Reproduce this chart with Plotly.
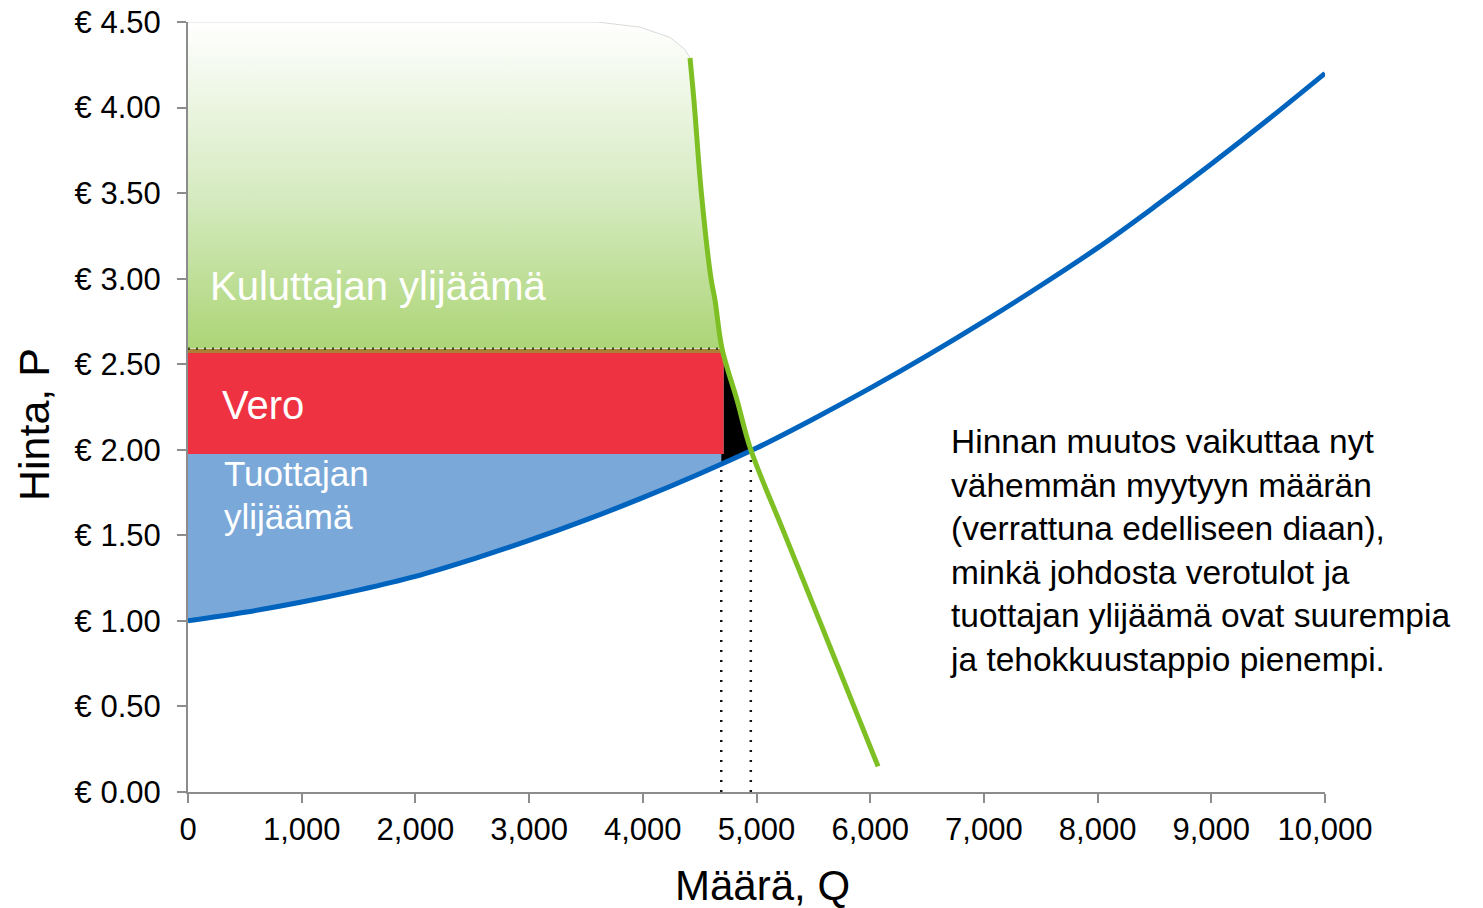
import numpy as np
import plotly.graph_objects as go

# ---------------- data ----------------
supply_q = [0, 500, 1000, 1500, 2000, 2500, 3000, 3500, 4000, 4500, 5000,
            5500, 6000, 6500, 7000, 7500, 8000, 8500, 9000, 9500, 10000]
supply_p = [1.00, 1.05, 1.11, 1.18, 1.26, 1.36, 1.47, 1.59, 1.72, 1.86, 2.01,
            2.18, 2.36, 2.55, 2.75, 2.96, 3.18, 3.42, 3.67, 3.93, 4.20]

demand_q = [4415, 4450, 4515, 4600, 4635, 4697, 4829, 4950, 5252, 5555, 5857, 6069]
demand_p = [4.29, 4.04, 3.50, 3.00, 2.875, 2.59, 2.29, 2.00, 1.50, 1.00, 0.50, 0.15]

# consumer-surplus top rounded corner (outline of the area)
cs_corner_q = [4370, 4240, 3975, 3600, 0]
cs_corner_p = [4.34, 4.41, 4.47, 4.50, 4.50]

q_tax = 4690          # quantity with tax
q_block = 4712        # right edge of tax block
q_eq = 4950           # equilibrium quantity
p_eq = 2.00
p_consumer = 2.59     # price paid by consumers
p_block_top = 2.565
p_block_bottom = 1.975

x_ticks = list(range(0, 10001, 1000))
y_ticks = [0, 0.5, 1.0, 1.5, 2.0, 2.5, 3.0, 3.5, 4.0, 4.5]
x_tick_text = [f"{v:,}" for v in x_ticks]
y_tick_text = [f"€ {v:.2f}" for v in y_ticks]

labels = {
    "cs": "Kuluttajan ylijäämä",
    "tax": "Vero",
    "ps1": "Tuottajan",
    "ps2": "ylijäämä",
    "note": ("Hinnan muutos vaikuttaa nyt<br>vähemmän myytyyn määrän<br>"
             "(verrattuna edelliseen diaan),<br>minkä johdosta verotulot ja<br>"
             "tuottajan ylijäämä ovat suurempia<br>ja tehokkuustappio pienempi."),
    "xtitle": "Määrä, Q",
    "ytitle": "Hinta, P",
}

FONT = "Liberation Sans, Arial, sans-serif"
sq = np.array(supply_q, float)
sp = np.array(supply_p, float)
dq = np.array(demand_q, float)
dp = np.array(demand_p, float)

def supply_at(q):
    return float(np.interp(q, sq, sp))

fig = go.Figure()

# producer surplus (blue)
mask = sq < q_tax
ps_x = [0] + list(sq[mask]) + [q_tax, q_tax, 0]
ps_y = [supply_p[0]] + list(sp[mask]) + [supply_at(q_tax), p_block_bottom, p_block_bottom]
fig.add_trace(go.Scatter(x=ps_x, y=ps_y, fill="toself", mode="lines",
                         line=dict(width=0), fillcolor="rgb(122,168,216)",
                         hoverinfo="skip", showlegend=False))

# consumer surplus (gradient green)
q_at_pc = demand_q[list(dp).index(p_consumer)]
m2 = dp >= p_consumer
cs_x = [0, q_at_pc] + list(dq[m2][::-1]) + cs_corner_q
cs_y = [p_consumer, p_consumer] + list(dp[m2][::-1]) + cs_corner_p
fig.add_trace(go.Scatter(x=cs_x, y=cs_y, fill="toself", mode="lines",
                         line=dict(width=1, color="rgb(218,218,218)"),
                         fillgradient=dict(type="vertical",
                                           colorscale=[[0, "rgb(172,213,118)"],
                                                       [0.45, "rgb(212,234,190)"],
                                                       [1, "rgb(255,255,255)"]],
                                           start=p_consumer, stop=4.5),
                         hoverinfo="skip", showlegend=False, cliponaxis=False))

# tax block (red)
fig.add_trace(go.Scatter(x=[0, q_block, q_block, 0], y=[p_block_bottom, p_block_bottom, p_block_top, p_block_top],
                         fill="toself", mode="lines", line=dict(width=0),
                         fillcolor="rgb(238,50,66)", hoverinfo="skip", showlegend=False))
fig.add_trace(go.Scatter(x=[0, q_block], y=[(p_block_top + p_consumer) / 2] * 2, mode="lines",
                         line=dict(width=4, color="rgb(172,128,52)"),
                         hoverinfo="skip", showlegend=False))

# dead-weight loss (black)
m3 = (dp < p_block_top) & (dp >= p_eq)
dw_x = [q_block] + list(dq[m3]) + [q_tax, q_tax, q_block]
dw_y = [p_block_top] + list(dp[m3]) + [supply_at(q_tax), p_block_bottom, p_block_bottom]
fig.add_trace(go.Scatter(x=dw_x, y=dw_y, fill="toself", mode="lines",
                         line=dict(width=0), fillcolor="black",
                         hoverinfo="skip", showlegend=False))

# dotted guide lines
dot = dict(color="rgb(20,20,20)", width=2.5, dash="2px,8px")
fig.add_trace(go.Scatter(x=[0, q_at_pc], y=[p_consumer, p_consumer],
                         mode="lines", line=dict(color="rgb(60,80,30)", width=2.5, dash="2px,6px"),
                         hoverinfo="skip", showlegend=False))
fig.add_trace(go.Scatter(x=[q_tax, q_tax], y=[0, supply_at(q_tax)], mode="lines", line=dot,
                         hoverinfo="skip", showlegend=False))
fig.add_trace(go.Scatter(x=[q_eq, q_eq], y=[0, p_eq], mode="lines", line=dot,
                         hoverinfo="skip", showlegend=False))

# curves
fig.add_trace(go.Scatter(x=supply_q, y=supply_p, mode="lines",
                         line=dict(color="rgb(0,100,190)", width=5, shape="spline"),
                         showlegend=False, cliponaxis=False))
fig.add_trace(go.Scatter(x=demand_q, y=demand_p, mode="lines",
                         line=dict(color="rgb(126,192,36)", width=5, shape="spline"),
                         showlegend=False, cliponaxis=False))

# text labels
fig.add_annotation(x=176, y=2.96, text=labels["cs"], showarrow=False, xanchor="left",
                   font=dict(family=FONT, size=40, color="white"))
fig.add_annotation(x=280, y=2.26, text=labels["tax"], showarrow=False, xanchor="left",
                   font=dict(family=FONT, size=40, color="white"))
fig.add_annotation(x=300, y=1.864, text=labels["ps1"], showarrow=False, xanchor="left",
                   font=dict(family=FONT, size=35, color="white"))
fig.add_annotation(x=300, y=1.613, text=labels["ps2"], showarrow=False, xanchor="left",
                   font=dict(family=FONT, size=35, color="white"))
fig.add_annotation(x=6684, y=1.414, text=labels["note"], showarrow=False, xanchor="left", align="left",
                   font=dict(family=FONT, size=33.5, color="black"))
fig.add_annotation(x=0.5055, xref="paper", y=-0.121, yref="paper", yanchor="middle", xanchor="center",
                   text=labels["xtitle"], showarrow=False,
                   font=dict(family=FONT, size=42, color="black"))
fig.add_annotation(x=-0.1355, xref="paper", xanchor="center", y=2.15, yanchor="middle",
                   text=labels["ytitle"], showarrow=False,
                   textangle=-90, font=dict(family=FONT, size=43, color="black"))

axis_color = "rgb(140,140,140)"
fig.update_xaxes(range=[0, 10000], tickvals=x_ticks, ticktext=x_tick_text, ticks="outside", ticklen=9,
                 tickwidth=2, tickcolor=axis_color, showline=True, linecolor=axis_color, linewidth=2,
                 showgrid=False, zeroline=False, automargin=False, ticklabeloverflow="allow",
                 tickfont=dict(family=FONT, size=31, color="black"))
fig.update_yaxes(range=[0, 4.5], tickvals=y_ticks, ticktext=y_tick_text, ticks="outside",
                 ticklen=9, tickwidth=2, tickcolor=axis_color, showline=True, linecolor=axis_color,
                 linewidth=2, showgrid=False, zeroline=False, automargin=False, ticklabelstandoff=10,
                 ticklabeloverflow="allow",
                 tickfont=dict(family=FONT, size=31, color="black"))
# page body has an 8px margin, so the figure is sized to fit inside the 1483x908 window
fig.update_layout(width=1475, height=900, margin=dict(l=180, r=158, t=14, b=116, autoexpand=False),
                  plot_bgcolor="white", paper_bgcolor="white", showlegend=False)

fig.write_html("out.html")
